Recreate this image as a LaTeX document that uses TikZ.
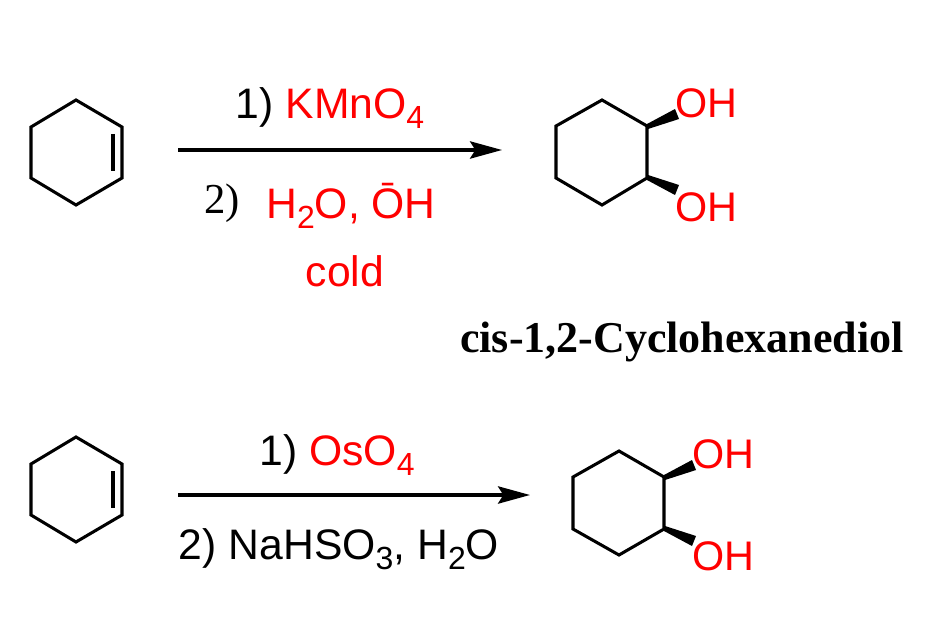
\documentclass[tikz,border=0pt]{standalone}
\usepackage{fontspec}
\setmainfont{Liberation Sans}
\newfontfamily\serifb{Liberation Serif}
\usetikzlibrary{arrows.meta}
\definecolor{rr}{RGB}{255,0,0}
\newcommand{\sbs}[1]{\raisebox{-0.22em}{\fontsize{24}{24}\selectfont #1}}
\begin{document}
\begin{tikzpicture}[x=0.75pt,y=-0.75pt,
  bond/.style={line width=2.3pt,line join=miter,line cap=butt},
  rxn/.style={line width=2.3pt,-{Stealth[length=24pt,width=13pt,inset=4pt]}},
  lbl/.style={inner sep=0pt,font=\fontsize{32}{34}\selectfont},
  oh/.style={inner sep=0pt,text=rr,font=\fontsize{31}{33}\selectfont}]
\useasboundingbox (0,0) rectangle (941,624);
% top cyclohexene
\draw[bond] (76,100)--(122,127)--(122,178)--(76,205)--(31,178)--(31,127)--cycle;
\draw[bond] (113,134)--(113,171);
% bottom cyclohexene
\draw[bond] (76,437)--(122,464)--(122,515)--(76,542)--(31,515)--(31,464)--cycle;
\draw[bond] (113,471)--(113,508);
% arrows
\coordinate (a1) at (178,150); \coordinate (b1) at (502,150);
\draw[rxn] (a1)--(b1);
\coordinate (a2) at (178,495); \coordinate (b2) at (530,495);
\draw[rxn] (a2)--(b2);
% top product
\draw[bond] (647,126)--(602,100)--(556,126)--(556,178)--(602,205)--(647,178)--cycle;
\fill (647,124)--(675,109)--(679,119)--(648,129)--cycle;
\fill (647,180)--(675,195)--(679,185)--(648,175)--cycle;
\node[oh] (oh1) at (706,103) {OH};
\node[oh] (oh2) at (706,207) {OH};
% bottom product
\draw[bond] (664,477)--(619,451)--(573,477)--(573,529)--(619,555)--(664,529)--cycle;
\fill (664,475)--(692,460)--(696,470)--(665,480)--cycle;
\fill (664,531)--(692,546)--(696,536)--(665,526)--cycle;
\node[oh] (oh3) at (723,454) {OH};
\node[oh] (oh4) at (723,556) {OH};
% reagents top
\node[lbl] (r1) at (330,108) {1) \textcolor{rr}{KMnO\sbs{4}}};
\node[lbl,font=\serifb\fontsize{32}{34}\selectfont] (r2a) at (222,203) {2)};
\node[lbl,text=rr] (r2b) at (351,206) {H\sbs{2}O, \=OH};
\node[lbl,text=rr] (r3) at (345,271) {cold};
\node[inner sep=0pt,font=\serifb\bfseries\fontsize{33}{35}\selectfont] (cap) at (682,342) {cis-1,2-Cyclohexanediol};
% reagents bottom
\node[lbl] (s1) at (337,455) {1) \textcolor{rr}{OsO\sbs{4}}};
\node[lbl] (s2) at (339,549) {2) NaHSO\sbs{3}, H\sbs{2}O};
\end{tikzpicture}
\end{document}
